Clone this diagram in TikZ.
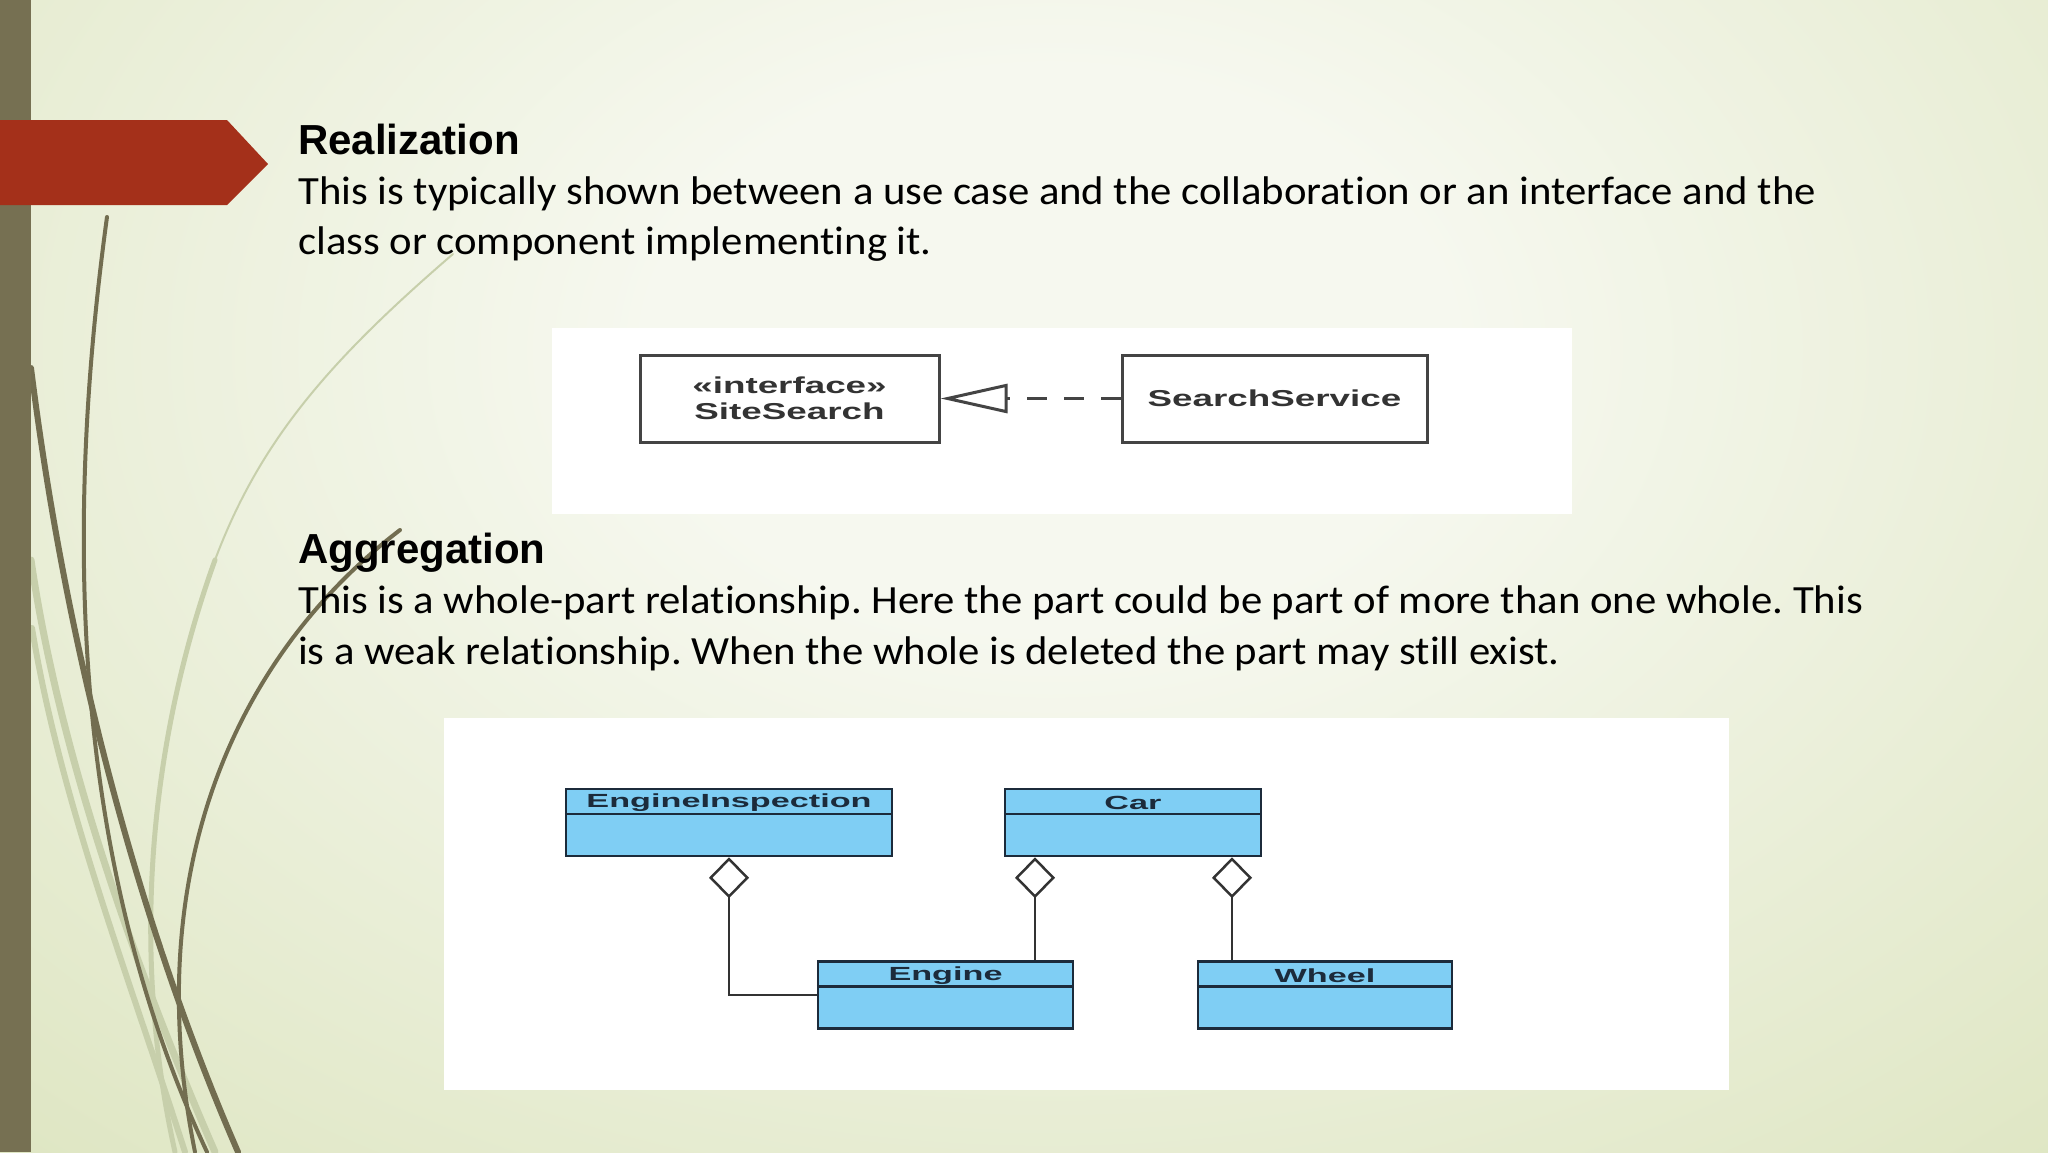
\documentclass[tikz,border=0pt]{standalone}
\usepackage{fontspec}
\usepackage{graphicx}
\usetikzlibrary{arrows.meta,positioning}

\newfontfamily\headfont{Liberation Sans}
\newfontfamily\bodyfont[Ligatures=NoCommon]{Carlito}
\frenchspacing

\definecolor{slidebar}{HTML}{767052}
\definecolor{slidered}{HTML}{A4301A}
\definecolor{bginner}{HTML}{F6F8EF}
\definecolor{bgouter}{HTML}{DCE4BE}
\definecolor{stemdark}{HTML}{726D50}
\definecolor{stemlight}{HTML}{C7CFAB}
\definecolor{classfill}{HTML}{7FCEF4}
\definecolor{classline}{HTML}{1C2B3B}
\definecolor{boxline}{HTML}{444444}

\pgfdeclareradialshading{slideglow}{\pgfpoint{0bp}{0bp}}{color(0bp)=(bginner); color(5bp)=(bginner); color(21bp)=(bgouter); color(50bp)=(bgouter)}

\newcommand{\wide}[2]{\scalebox{#1}[1]{#2}}

\tikzset{
  heading/.style={anchor=base west, inner sep=0pt, font=\headfont\bfseries\fontsize{42}{50}\selectfont},
  bodyline/.style={anchor=base west, inner sep=0pt, font=\bodyfont\fontsize{40}{50}\selectfont},
  plainclass/.style={draw=boxline, line width=3pt, fill=white, inner sep=0pt,
    minimum height=87pt, align=center, text=black!80,
    font=\headfont\bfseries\fontsize{23}{26}\selectfont},
  umlclass/.style={draw=classline, line width=2.5pt, fill=classfill, inner sep=0pt,
    minimum height=67pt},
  classname/.style={inner sep=0pt, text=classline,
    font=\headfont\bfseries\fontsize{19}{20}\selectfont},
  realize/.style={draw=boxline, line width=3pt, dash pattern=on 20pt off 17pt,
    -{Triangle[open, length=67pt, width=29pt]}},
  aggr/.style={draw=black!80, line width=2.5pt,
    -{Diamond[open, fill=white, length=41pt, width=40pt]}}
}

\begin{document}
\begin{tikzpicture}[x=1pt,y=-1pt]

  % slide background
  \useasboundingbox (0,0) rectangle (2048,1152);
  \begin{scope}
    \clip (0,0) rectangle (2048,1152);
    \shade[shading=slideglow] (-950,-1050) rectangle (3050,1750);
  \end{scope}

  % stems on the left
  \begin{scope}[line cap=round]
    \draw[stemlight, line width=7pt] (31,560) .. controls (60,760) and (140,980) .. (215,1152);
    \draw[stemlight, line width=6pt] (32,628) .. controls (60,800) and (130,980) .. (185,1152);
    \draw[stemlight, line width=2pt] (453,254) .. controls (330,360) and (260,440) .. (215,560);
    \draw[stemlight, line width=5pt] (215,560) .. controls (150,740) and (130,950) .. (175,1152);
    \draw[stemdark, line width=4pt] (107,217) .. controls (60,560) and (80,880) .. (207,1152);
    \draw[stemdark, line width=6pt] (31,368) .. controls (70,680) and (150,950) .. (238,1152);
    \draw[stemdark, line width=4pt] (400,530) .. controls (230,660) and (140,880) .. (195,1152);
  \end{scope}

  \fill[slidebar] (0,0) rectangle (31,1152);
  \fill[slidered] (0,120) -- (227,120) -- (268,164) -- (227,205) -- (0,205) -- cycle;

  % texts
  \node[heading] (realhead) at (298,154) {Realization};
  \node[bodyline] (realone) at (298,204) {\wide{1.068}{This is typically shown between a use case and the collaboration or an interface and the}};
  \node[bodyline] (realtwo) at (298,254) {\wide{1.068}{class or component implementing it.}};

  \node[heading] (aggrhead) at (298,563) {Aggregation};
  \node[bodyline] (aggrone) at (298,613) {\wide{1.068}{This is a whole-part relationship. Here the part could be part of more than one whole. This}};
  \node[bodyline] (aggrtwo) at (298,664) {\wide{1.068}{is a weak relationship. When the whole is deleted the part may still exist.}};

  % realization picture
  \fill[white] (552,328) rectangle (1572,514);
  \node[plainclass, minimum width=299pt] (site) at (789.5,398.5)
    {\wide{1.6}{«interface»}\\\wide{1.6}{SiteSearch}};
  \node[plainclass, minimum width=305pt] (service) at (1274.5,398.5)
    {\wide{1.6}{SearchService}};
  \draw[realize] (service) -- (site);

  % aggregation picture
  \fill[white] (444,718) rectangle (1729,1090);
  \begin{scope}
    \node[umlclass, minimum width=326pt] (inspect) at (729,822.5) {};
    \node[umlclass, minimum width=256pt] (car)     at (1133,822.5) {};
    \node[umlclass, minimum width=255pt] (engine)  at (945.5,995) {};
    \node[umlclass, minimum width=254pt] (wheel)   at (1325,995) {};
  \end{scope}

  \foreach \cls in {inspect,car,engine,wheel}
    \draw[classline, line width=2.5pt] ([yshift=-26pt]\cls.north west) -- ([yshift=-26pt]\cls.north east);

  \node[classname] (inspectname) at ([yshift=-15pt]inspect.north) {\wide{1.8}{EngineInspection}};
  \node[classname] (carname)     at ([yshift=-15pt]car.north)     {\wide{1.8}{Car}};
  \node[classname] (enginename)  at ([yshift=-15pt]engine.north)  {\wide{1.8}{Engine}};
  \node[classname] (wheelname)   at ([yshift=-15pt]wheel.north)   {\wide{1.8}{Wheel}};

  \coordinate (carleft)  at ([xshift=-98pt]car.south);
  \coordinate (carright) at ([xshift=99pt]car.south);

  \draw[aggr] (engine.west) -| (inspect.south);
  \draw[aggr] (engine.north -| carleft) -- (carleft);
  \draw[aggr] (wheel.north -| carright) -- (carright);

\end{tikzpicture}
\end{document}
